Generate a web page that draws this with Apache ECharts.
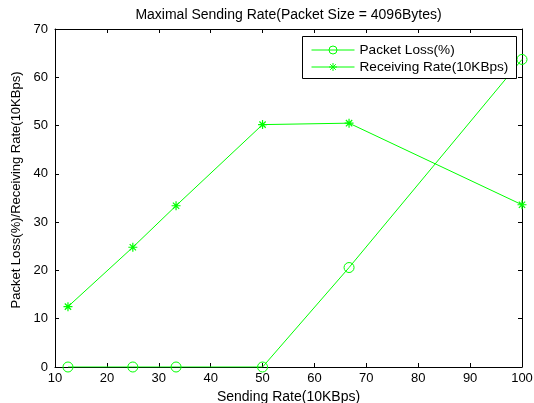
<!DOCTYPE html>
<html><head><meta charset="utf-8">
<script src="https://cdn.jsdelivr.net/npm/echarts@6/dist/echarts.min.js"></script>
<style>html,body{margin:0;padding:0;background:#fff}#c{width:534px;height:403px}</style>
</head><body><div id="c"></div>
<script>
var sendingRate = [12.5, 25, 33.33, 50, 66.67, 100];
var packetLoss = [0, 0, 0, 0, 20.6, 63.7];
var receivingRate = [12.5, 24.8, 33.4, 50.2, 50.5, 33.6];
var titleText = 'Maximal Sending Rate(Packet Size = 4096Bytes)';
var xName = 'Sending Rate(10KBps)';
var yName = 'Packet Loss(%)/Receiving Rate(10KBps)';
var seriesNames = ['Packet Loss(%)', 'Receiving Rate(10KBps)'];

var green = '#00ff00';
var font = 'Liberation Sans, Arial, sans-serif';
var star = 'path://M0,-5L0,5M-5,0L5,0M-3.5,-3.5L3.5,3.5M-3.5,3.5L3.5,-3.5';
var ring = 'path://M5,0A5,5 0 1 1 -5,0A5,5 0 1 1 5,0Z';
function pairs(xs, ys){ return xs.map(function(x,i){return [x, ys[i]];}); }

var chart = echarts.init(document.getElementById('c'), null, {renderer:'canvas'});
var axisCommon = {
  min: 10, max: 100, interval: 10,
  axisLine: {show: true, onZero: false, lineStyle: {color: '#000', width: 1}},
  axisTick: {show: true, inside: true, length: 4, lineStyle: {color: '#000'}},
  splitLine: {show: false}
};
chart.setOption({
  animation: false,
  backgroundColor: '#fff',
  grid: {left: 55, right: 12, top: 29, bottom: 36, containLabel: false, outerBoundsMode: 'none'},
  graphic: [{
    type: 'rect', z: 30, silent: true,
    shape: {x: 302.5, y: 36.5, width: 214, height: 42},
    style: {fill: '#fff', stroke: '#000', lineWidth: 1}
  }],
  legend: {
    orient: 'vertical', left: 302, top: 36, z: 40,
    data: seriesNames,
    padding: [7, 0, 0, 9], itemWidth: 43, itemHeight: 10, itemGap: 3,
    lineStyle: {width: 1},
    itemStyle: {borderWidth: 1},
    textStyle: {fontFamily: font, fontSize: 13.6, color: '#000'}
  },
  xAxis: [
    Object.assign({}, axisCommon, {
      type: 'value', position: 'bottom',
      name: xName, nameLocation: 'middle', nameGap: 16,
      nameTextStyle: {fontFamily: font, fontSize: 14, color: '#000'},
      axisLabel: {fontFamily: font, fontSize: 13, color: '#000', margin: 5}
    }),
    Object.assign({}, axisCommon, {
      type: 'value', position: 'top',
      name: titleText, nameLocation: 'middle', nameGap: 7,
      nameTextStyle: {fontFamily: font, fontSize: 14, color: '#000'},
      axisLabel: {show: false}
    })
  ],
  yAxis: [
    {
      type: 'value', min: 0, max: 70, interval: 10, position: 'left',
      axisLine: {show: true, lineStyle: {color: '#000', width: 1}},
      axisTick: {show: true, inside: true, length: 4, lineStyle: {color: '#000'}},
      splitLine: {show: false},
      name: yName, nameLocation: 'middle', nameGap: 31,
      nameTextStyle: {fontFamily: font, fontSize: 13, color: '#000', padding: [0, 0, 0, 16]},
      axisLabel: {fontFamily: font, fontSize: 13, color: '#000', margin: 7}
    },
    {
      type: 'value', min: 0, max: 70, interval: 10, position: 'right',
      axisLine: {show: true, lineStyle: {color: '#000', width: 1}},
      axisTick: {show: true, inside: true, length: 4, lineStyle: {color: '#000'}},
      splitLine: {show: false},
      axisLabel: {show: false}
    }
  ],
  series: [
    {
      name: seriesNames[0], type: 'line', xAxisIndex: 0, yAxisIndex: 0,
      data: pairs(sendingRate, packetLoss),
      symbol: ring, symbolSize: 10, symbolKeepAspect: true, showAllSymbol: true,
      lineStyle: {color: green, width: 1},
      itemStyle: {color: 'rgba(0,0,0,0)', borderColor: green, borderWidth: 1}
    },
    {
      name: seriesNames[1], type: 'line', xAxisIndex: 0, yAxisIndex: 0,
      data: pairs(sendingRate, receivingRate),
      symbol: star, symbolSize: 9, symbolKeepAspect: true, showAllSymbol: true,
      lineStyle: {color: green, width: 1},
      itemStyle: {color: 'rgba(0,0,0,0)', borderColor: green, borderWidth: 1.2}
    }
  ]
});
</script></body></html>
